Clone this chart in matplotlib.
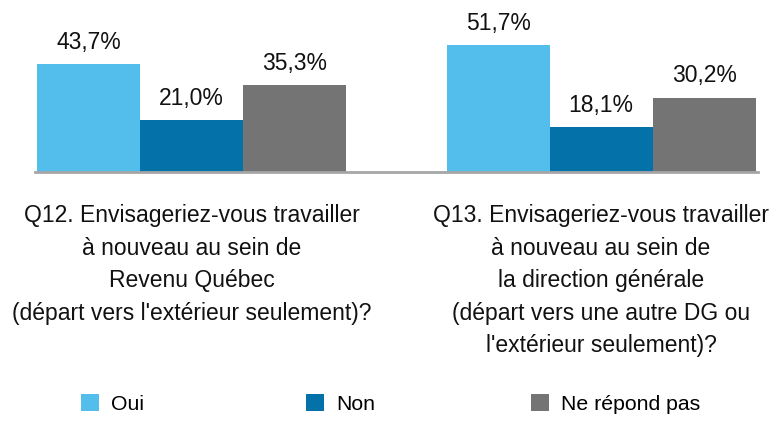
import matplotlib
matplotlib.use("Agg")
import matplotlib.pyplot as plt
from matplotlib import font_manager
from matplotlib.patches import Patch
import numpy as np

# Survey results (percent)
questions = [
    "Q12. Envisageriez-vous travailler\nà nouveau au sein de\nRevenu Québec\n(départ vers l'extérieur seulement)?",
    "Q13. Envisageriez-vous travailler\nà nouveau au sein de\nla direction générale\n(départ vers une autre DG ou\nl'extérieur seulement)?",
]
series_names = ["Oui", "Non", "Ne répond pas"]
oui = [43.7, 51.7]
non = [21.0, 18.1]
ne_repond_pas = [35.3, 30.2]
values = [oui, non, ne_repond_pas]
colors = ["#53BEEB", "#0472A8", "#747474"]


def pick_font(names):
    for n in names:
        try:
            font_manager.findfont(n, fallback_to_default=False)
            return n
        except Exception:
            continue
    return "DejaVu Sans"


font = pick_font(["Liberation Sans Narrow", "Liberation Sans", "Arial"])
plt.rcParams["font.family"] = [font, "DejaVu Sans"]

W, H = 770, 425
fig = plt.figure(figsize=(W / 100, H / 100), dpi=100)
ax = fig.add_axes([35 / W, 1 - 172 / H, (758 - 35) / W, 172 / H])

x = np.arange(len(questions))
bw = 0.2515
for i, (vals, c) in enumerate(zip(values, colors)):
    pos = x + (i - 1) * bw
    ax.bar(pos, vals, width=bw, color=c, edgecolor="none", zorder=2)
    for xp, v in zip(pos, vals):
        ax.annotate(f"{v:.1f}".replace(".", ",") + "%", (xp, v),
                    xytext=(0, 11), textcoords="offset points",
                    ha="center", va="baseline", fontsize=16.5, color="#111111")

ax.set_xlim(-0.382, 1.383)
ax.set_ylim(0, 172 / 2.46)
for s in ["top", "right", "left"]:
    ax.spines[s].set_visible(False)
ax.spines["bottom"].set_color("#A6A6A6")
ax.spines["bottom"].set_linewidth(2)
ax.spines["bottom"].set_zorder(3)
ax.set_xticks([])
ax.set_yticks([])

# Question labels under each group
trans = matplotlib.transforms.blended_transform_factory(ax.transData, fig.transFigure)
for xi, q in zip(x, questions):
    ax.text(xi, 1 - 204 / H, q, transform=trans, ha="center", va="top",
            fontsize=16.5, linespacing=1.53, color="#111111")

# Legend entries
legend_x = [81 / W, 306 / W, 531 / W]
for name, c, lx in zip(series_names, colors, legend_x):
    fig.legend(handles=[Patch(facecolor=c, edgecolor="none")], labels=[name],
               loc="center left", bbox_to_anchor=(lx, 1 - 404 / H),
               frameon=False, fontsize=15.3, handlelength=0.85, handleheight=0.85,
               handletextpad=0.55, borderpad=0, borderaxespad=0)

fig.savefig("out.png", dpi=100)
